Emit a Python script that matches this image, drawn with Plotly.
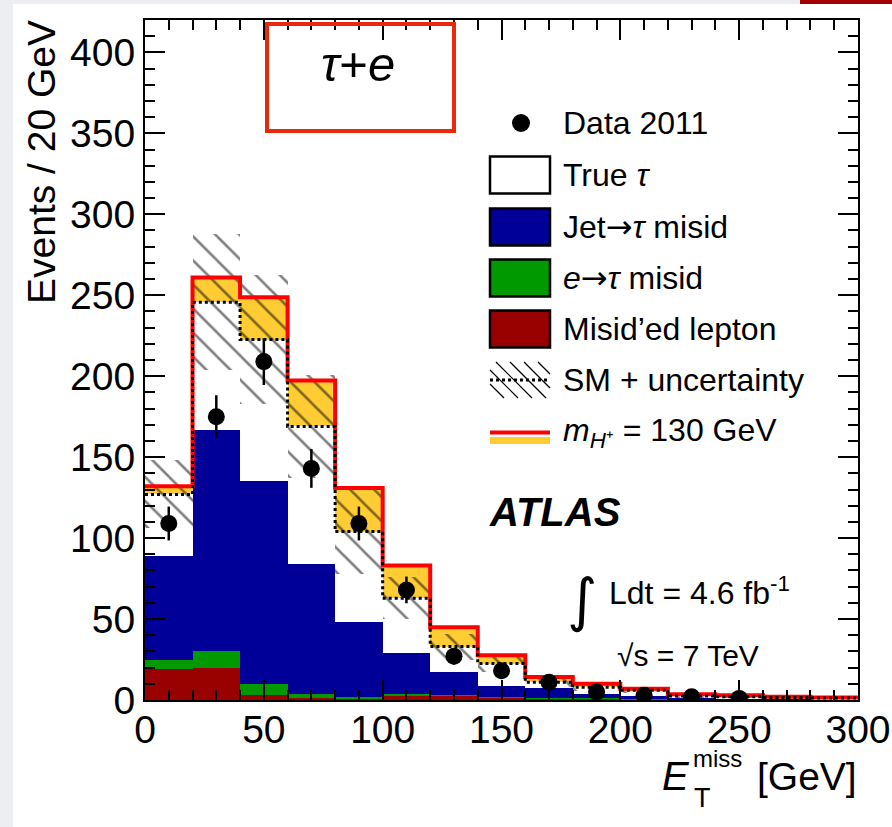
import numpy as np
import plotly.graph_objects as go

# ---- histogram content (20 GeV bins from 0 to 300 GeV) ----
bin_edges = list(range(0, 320, 20))
bin_centers = [10, 30, 50, 70, 90, 110, 130, 150, 170, 190, 210, 230, 250, 270, 290]

misid_lepton = [19.0, 20.0, 3.0, 1.0, 0.5, 3.0, 2.5, 1.5, 1.0, 0.8, 0.5, 0.3, 0.3, 0.2, 0.1]
e_to_tau = [5.5, 10.0, 6.7, 2.5, 1.5, 1.0, 0.5, 0.3, 0.3, 0.2, 0.1, 0.1, 0.1, 0.1, 0.05]
jet_to_tau = [64.2, 136.5, 125.3, 80.5, 46.0, 24.8, 14.3, 6.7, 5.9, 3.0, 1.9, 1.1, 0.8, 0.5, 0.35]
true_tau = [38.3, 79.2, 87.6, 85.0, 56.0, 34.0, 15.7, 14.0, 3.8, 3.8, 3.5, 1.0, 0.8, 0.7, 0.7]
signal_h130 = [5.0, 15.3, 26.2, 28.3, 27.0, 20.2, 12.0, 5.1, 3.2, 2.2, 1.0, 1.0, 1.0, 0.5, 0.3]
sm_uncertainty = [21, 42, 40, 32, 26, 13, 8, 5, 3, 2, 1.5, 1.0, 0.8, 0.6, 0.5]

data_centers = [10, 30, 50, 70, 90, 110, 130, 150, 170, 190, 210, 230, 250]
data_counts = [109, 175, 209, 143, 109, 68, 27, 18, 11, 5, 3, 2, 1]

x_ticks = [0, 50, 100, 150, 200, 250, 300]
y_ticks = [0, 50, 100, 150, 200, 250, 300, 350, 400]

# ---- colours ----
C_LEPTON = "#990000"
C_ETAU = "#009900"
C_JET = "#000099"
C_SIGNAL = "#ffcc33"
C_RED = "#ff0000"
FONT = "Liberation Sans, Arial, Helvetica, sans-serif"
ARROW = '<span style="font-family:DejaVu Sans">→</span>'

# ---- figure geometry (pixels) ----
W, H = 892, 827
L, R, T, B = 145, 34, 20, 127
PW, PH = W - L - R, H - T - B


def P(px):
    """pixel x -> paper x"""
    return (px - L) / PW


def Q(py):
    """pixel y -> paper y"""
    return (H - B - py) / PH


stack_parts = [
    ("Misid'ed lepton", misid_lepton, C_LEPTON),
    ("e->tau misid", e_to_tau, C_ETAU),
    ("Jet->tau misid", jet_to_tau, C_JET),
    ("True tau", true_tau, "#ffffff"),
]

fig = go.Figure()

base = np.zeros(len(bin_centers))
for name, vals, col in stack_parts:
    vals = np.array(vals)
    fig.add_trace(go.Bar(x=bin_centers, y=vals, base=base, width=20,
                         marker=dict(color=col, line=dict(width=0)),
                         name=name, showlegend=False, hoverinfo="skip"))
    base = base + vals
sm_total = base.copy()

sig = np.array(signal_h130)
fig.add_trace(go.Bar(x=bin_centers, y=sig, base=sm_total, width=20,
                     marker=dict(color=C_SIGNAL, line=dict(width=0)),
                     showlegend=False, hoverinfo="skip"))
sm_plus_sig = sm_total + sig

# hatched uncertainty band around the SM total
unc = np.array(sm_uncertainty, dtype=float)
fig.add_trace(go.Bar(x=bin_centers, y=2 * unc, base=sm_total - unc, width=20,
                     marker=dict(color="rgba(0,0,0,0)", line=dict(width=0),
                                 pattern=dict(shape="\\", size=17, solidity=0.15,
                                              fgcolor="black",
                                              bgcolor="rgba(0,0,0,0)")),
                     showlegend=False, hoverinfo="skip"))

# outlines as step lines
step_x = bin_edges
fig.add_trace(go.Scatter(x=step_x, y=list(sm_plus_sig) + [sm_plus_sig[-1]],
                         mode="lines", line=dict(color=C_RED, width=4, shape="hv"),
                         showlegend=False, hoverinfo="skip"))
fig.add_trace(go.Scatter(x=step_x, y=list(sm_total) + [sm_total[-1]],
                         mode="lines",
                         line=dict(color="black", width=3, shape="hv", dash="dot"),
                         showlegend=False, hoverinfo="skip"))

# data points with Poisson errors
counts = np.array(data_counts, dtype=float)
fig.add_trace(go.Scatter(x=data_centers, y=counts, mode="markers",
                         marker=dict(color="black", size=17),
                         error_y=dict(type="data", array=np.sqrt(counts),
                                      width=0, thickness=2.5, color="black"),
                         showlegend=False, hoverinfo="skip"))

axis_common = dict(
    showline=True, linecolor="black", linewidth=2, mirror="ticks",
    ticks="inside", ticklen=20, tickwidth=2, tickcolor="black",
    showgrid=False, zeroline=False, automargin=False,
    tickfont=dict(family=FONT, size=39, color="black"),
)

fig.update_xaxes(range=[0, 300], tickvals=x_ticks, ticklabelstandoff=-6,
                 minor=dict(dtick=10, ticks="inside", ticklen=10, tickwidth=2,
                            tickcolor="black", showgrid=False),
                 **axis_common)
fig.update_yaxes(range=[0, 420], tickvals=y_ticks,
                 minor=dict(dtick=10, ticks="inside", ticklen=10, tickwidth=2,
                            tickcolor="black", showgrid=False),
                 **axis_common)

shapes = []
annotations = []

# page edge strips
shapes.append(dict(type="rect", xref="paper", yref="paper", x0=P(0), x1=P(13),
                   y0=Q(H), y1=Q(0), fillcolor="#eceef1", line=dict(width=0), layer="below"))
shapes.append(dict(type="rect", xref="paper", yref="paper", x0=P(0), x1=P(W),
                   y0=Q(4), y1=Q(0), fillcolor="#eceef1", line=dict(width=0), layer="below"))
shapes.append(dict(type="rect", xref="paper", yref="paper", x0=P(800), x1=P(W),
                   y0=Q(4), y1=Q(0), fillcolor="#a00000", line=dict(width=0), layer="below"))

# channel label box
shapes.append(dict(type="rect", xref="paper", yref="paper", x0=P(267), x1=P(454),
                   y0=Q(131), y1=Q(24), line=dict(color="#e8290b", width=4),
                   fillcolor="rgba(0,0,0,0)", layer="above"))
annotations.append(dict(text="<i>τ</i>+<i>e</i>", xref="paper", yref="paper",
                        x=P(358), y=Q(64), xanchor="center", yanchor="middle",
                        showarrow=False, font=dict(family=FONT, size=49, color="black")))

# ---- legend drawn by hand ----
leg_x0, leg_x1 = 490, 550
text_x = 561
rows = [123, 175, 227, 278, 329, 380, 432]
box_h = 37

# data marker
shapes.append(dict(type="circle", xref="paper", yref="paper",
                   x0=P(521 - 9), x1=P(521 + 9), y0=Q(rows[0] + 9), y1=Q(rows[0] - 9),
                   fillcolor="black", line=dict(width=0)))
legend_boxes = [(rows[1], "#ffffff"), (rows[2], C_JET), (rows[3], C_ETAU), (rows[4], C_LEPTON)]
for yc, col in legend_boxes:
    shapes.append(dict(type="rect", xref="paper", yref="paper",
                       x0=P(leg_x0), x1=P(leg_x1), y0=Q(yc + box_h / 2), y1=Q(yc - box_h / 2),
                       fillcolor=col, line=dict(color="black", width=2.5)))

# hatched legend swatch
hy0, hy1 = rows[5] - 18, rows[5] + 18
for k in range(-36, 60, 14):
    xa, ya = leg_x0 + k, hy0
    xb, yb = leg_x0 + k + (hy1 - hy0), hy1
    if xa < leg_x0:
        ya += leg_x0 - xa
        xa = leg_x0
    if xb > leg_x1:
        yb -= xb - leg_x1
        xb = leg_x1
    if xb > xa:
        shapes.append(dict(type="line", xref="paper", yref="paper",
                           x0=P(xa), x1=P(xb), y0=Q(ya), y1=Q(yb),
                           line=dict(color="black", width=1.2)))
shapes.append(dict(type="line", xref="paper", yref="paper",
                   x0=P(leg_x0), x1=P(leg_x1), y0=Q(rows[5]), y1=Q(rows[5]),
                   line=dict(color="black", width=3, dash="dot")))

# signal swatch
shapes.append(dict(type="rect", xref="paper", yref="paper",
                   x0=P(leg_x0), x1=P(leg_x1), y0=Q(444), y1=Q(437),
                   fillcolor=C_SIGNAL, line=dict(width=0)))
shapes.append(dict(type="line", xref="paper", yref="paper",
                   x0=P(leg_x0), x1=P(leg_x1), y0=Q(432.5), y1=Q(432.5),
                   line=dict(color=C_RED, width=4)))

legend_texts = [
    "Data 2011",
    "True <i>τ</i>",
    "Jet" + ARROW + "<i>τ</i> misid",
    "<i>e</i>" + ARROW + "<i>τ</i> misid",
    "Misid’ed lepton",
    "SM + uncertainty",
    "<i>m</i><sub><i>H</i>⁺</sub> = 130 GeV",
]
for yc, txt in zip(rows, legend_texts):
    annotations.append(dict(text=txt, xref="paper", yref="paper", x=P(text_x), y=Q(yc),
                            xanchor="left", yanchor="middle", showarrow=False,
                            font=dict(family=FONT, size=32, color="black")))

# experiment labels
annotations.append(dict(text="<b><i>ATLAS</i></b>", xref="paper", yref="paper",
                        x=P(555), y=Q(512), xanchor="center", yanchor="middle",
                        showarrow=False, font=dict(family=FONT, size=40, color="black")))
annotations.append(dict(text="∫", xref="paper", yref="paper",
                        x=P(582), y=Q(600), xanchor="center", yanchor="middle",
                        showarrow=False, font=dict(family="DejaVu Sans", size=58, color="black")))
annotations.append(dict(text="Ldt = 4.6 fb<sup>-1</sup>", xref="paper", yref="paper",
                        x=P(607), y=Q(591), xanchor="left", yanchor="middle",
                        showarrow=False, font=dict(family=FONT, size=32, color="black")))
annotations.append(dict(text="√s = 7 TeV", xref="paper", yref="paper",
                        x=P(688), y=Q(655), xanchor="center", yanchor="middle",
                        showarrow=False, font=dict(family=FONT, size=30, color="black")))

# axis titles
annotations.append(dict(text="Events / 20 GeV", xref="paper", yref="paper",
                        x=P(41), y=Q(162), xanchor="center", yanchor="middle",
                        textangle=-90, showarrow=False,
                        font=dict(family=FONT, size=39, color="black")))
annotations.append(dict(text="[GeV]", xref="paper", yref="paper",
                        x=P(858), y=Q(776), xanchor="right", yanchor="middle",
                        showarrow=False, borderpad=0,
                        font=dict(family=FONT, size=39, color="black")))
annotations.append(dict(text="<i>E</i>", xref="paper", yref="paper",
                        x=P(692), y=Q(776), xanchor="right", yanchor="middle",
                        showarrow=False, font=dict(family=FONT, size=40, color="black")))
annotations.append(dict(text="miss", xref="paper", yref="paper",
                        x=P(692), y=Q(758), xanchor="left", yanchor="middle",
                        showarrow=False, borderpad=0,
                        font=dict(family=FONT, size=24, color="black")))
annotations.append(dict(text="T", xref="paper", yref="paper",
                        x=P(692), y=Q(798), xanchor="left", yanchor="middle",
                        showarrow=False, font=dict(family=FONT, size=27, color="black")))

fig.update_layout(
    width=W, height=H,
    margin=dict(l=L, r=R, t=T, b=B, pad=0, autoexpand=False),
    paper_bgcolor="white", plot_bgcolor="white",
    barmode="overlay", bargap=0,
    showlegend=False,
    shapes=shapes, annotations=annotations,
    font=dict(family=FONT, color="black"),
)

fig.write_html("out.html")
